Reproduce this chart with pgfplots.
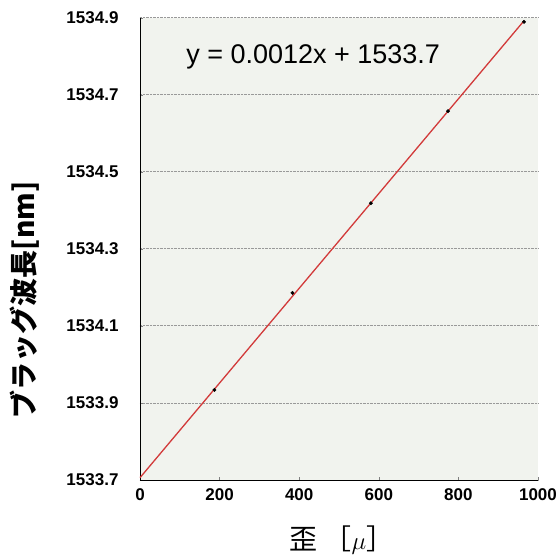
\documentclass[border=0pt]{standalone}
\usepackage{fontspec}
\setmainfont{Liberation Sans}
\newfontfamily\cjk{Noto Sans CJK JP}
\usepackage{pgfplots}
\pgfplotsset{compat=1.18}
\definecolor{panel}{HTML}{F1F3EE}
\definecolor{trend}{HTML}{D23A3A}

\begin{document}
\begin{tikzpicture}
\useasboundingbox (-140pt,-77pt) rectangle (419pt,480pt);
\begin{axis}[
  width=398pt,height=462pt,scale only axis,
  xmin=0,xmax=1000,ymin=1533.7,ymax=1534.9,
  xtick={0,200,...,1000},
  ytick={1533.7,1533.9,1534.1,1534.3,1534.5,1534.7,1534.9},
  axis background/.style={fill=panel},
  axis x line*=bottom,axis y line*=left,
  axis line style={black,line width=1.6pt},
  every outer x axis line/.style={-},every outer y axis line/.style={-},
  tick align=inside,major tick length=3pt,
  tick style={gray,line width=0.6pt},
  ymajorgrids,grid style={gray!80,densely dotted,line width=1pt},
  ticklabel style={font=\bfseries\fontsize{17}{18}\selectfont},
  /pgf/number format/assume math mode=true,
  yticklabel style={/pgf/number format/fixed,/pgf/number format/fixed zerofill,
    /pgf/number format/precision=1,/pgf/number format/1000 sep={},xshift=-18pt},
  xticklabel style={/pgf/number format/1000 sep={},yshift=-5pt},
  clip=false
]
% trend line
\addplot[trend,line width=1.3pt] coordinates {(0,1533.706) (965,1534.893)};
% measured points
\addplot[only marks,mark=*,mark size=1.7pt,
  mark options={fill=black,draw=black}] coordinates
  {(187,1533.934) (383,1534.186) (580,1534.419) (774,1534.658) (965,1534.890)};
\node[font=\fontsize{27}{28}\selectfont] at (rel axis cs:0.435,0.916) {y = 0.0012x + 1533.7};
\node[rotate=90,font=\cjk\bfseries\fontsize{28}{29}\selectfont]
  at ([xshift=-115pt]rel axis cs:0,0.39) {ブラッグ波長[nm]};
\node[font=\cjk\fontsize{28}{29}\selectfont]
  at ([yshift=-60pt]rel axis cs:0.507,0) {歪 ［$\mu$］};
\end{axis}
\end{tikzpicture}
\end{document}
